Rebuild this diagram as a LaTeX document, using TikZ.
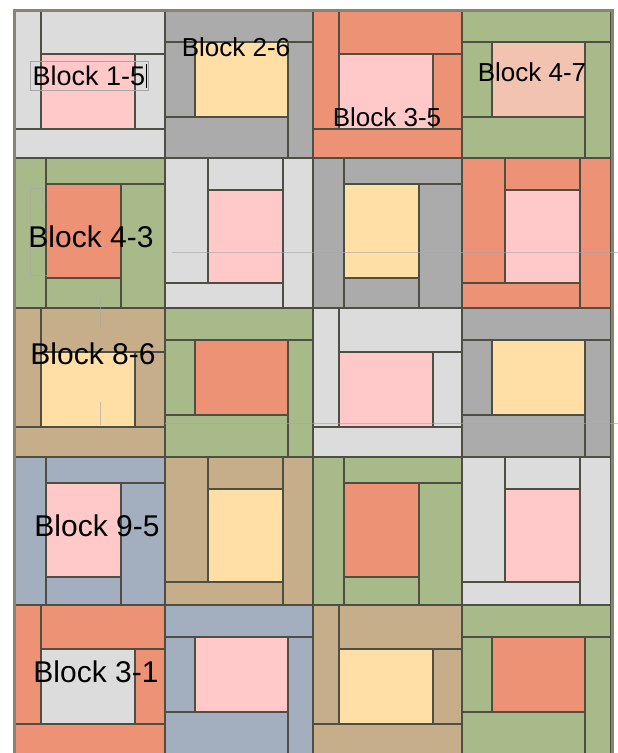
\documentclass[tikz,border=0pt]{standalone}
\usepackage{fontspec}
\setmainfont{Liberation Sans}
\definecolor{qlg}{HTML}{DCDCDC}
\definecolor{qdg}{HTML}{ABABAB}
\definecolor{qsal}{HTML}{EE9275}
\definecolor{qgrn}{HTML}{A9BA8A}
\definecolor{qtan}{HTML}{C6AE8B}
\definecolor{qblu}{HTML}{A3AEBF}
\definecolor{qpink}{HTML}{FFC9C9}
\definecolor{qyel}{HTML}{FFDFA6}
\definecolor{qpeach}{HTML}{F2C3B1}
\definecolor{qline}{HTML}{4E4E42}
\definecolor{qframe}{HTML}{8C8273}
\tikzset{
  patch/.style={draw=qline, line width=1.1pt},
  ghost/.style={draw=gray!70, line width=0.8pt, opacity=0.6},
  lbl/.style={inner sep=0pt, text=black, font=\fontsize{26}{30}\selectfont},
  lblbig/.style={inner sep=0pt, text=black, font=\fontsize{30}{34}\selectfont},
}
% layout A: x0 y0 x1 y1 strip centre
\newcommand\qblkA[6]{%
  \pgfmathsetmacro\qa{#1+26}\pgfmathsetmacro\qb{#1+120}%
  \pgfmathsetmacro\qc{#2+44}\pgfmathsetmacro\qd{#2+119}%
  \fill[#5,patch] (#1,#2) rectangle (\qa,\qd);
  \fill[#5,patch] (\qa,#2) rectangle (#3,\qc);
  \fill[#6,patch] (\qa,\qc) rectangle (\qb,\qd);
  \fill[#5,patch] (\qb,\qc) rectangle (#3,\qd);
  \fill[#5,patch] (#1,\qd) rectangle (#3,#4);
}
\newcommand\qblkB[6]{%
  \pgfmathsetmacro\qa{#1+30}\pgfmathsetmacro\qb{#1+123}%
  \pgfmathsetmacro\qc{#2+32}\pgfmathsetmacro\qd{#2+107}%
  \fill[#5,patch] (#1,#2) rectangle (#3,\qc);
  \fill[#5,patch] (#1,\qc) rectangle (\qa,\qd);
  \fill[#6,patch] (\qa,\qc) rectangle (\qb,\qd);
  \fill[#5,patch] (\qb,\qc) rectangle (#3,#4);
  \fill[#5,patch] (#1,\qd) rectangle (\qb,#4);
}
\newcommand\qblkC[6]{%
  \pgfmathsetmacro\qa{#1+43}\pgfmathsetmacro\qb{#1+118}%
  \pgfmathsetmacro\qc{#2+32}\pgfmathsetmacro\qd{#2+125}%
  \fill[#5,patch] (#1,#2) rectangle (\qa,\qd);
  \fill[#5,patch] (\qa,#2) rectangle (\qb,\qc);
  \fill[#6,patch] (\qa,\qc) rectangle (\qb,\qd);
  \fill[#5,patch] (\qb,#2) rectangle (#3,#4);
  \fill[#5,patch] (#1,\qd) rectangle (\qb,#4);
}
\newcommand\qblkD[6]{%
  \pgfmathsetmacro\qa{#1+31}\pgfmathsetmacro\qb{#1+106}%
  \pgfmathsetmacro\qc{#2+26}\pgfmathsetmacro\qd{#2+120}%
  \fill[#5,patch] (#1,#2) rectangle (\qa,#4);
  \fill[#5,patch] (\qa,#2) rectangle (#3,\qc);
  \fill[#6,patch] (\qa,\qc) rectangle (\qb,\qd);
  \fill[#5,patch] (\qb,\qc) rectangle (#3,#4);
  \fill[#5,patch] (\qa,\qd) rectangle (\qb,#4);
}
\begin{document}
\begin{tikzpicture}[x=1pt,y=-1pt]
\useasboundingbox (0,0) rectangle (618,753);
\fill[white] (0,0) rectangle (618,753);
\begin{scope}
\clip (0,0) rectangle (618,753);
% row 1
\qblkA{15}{10}{165}{158}{qlg}{qpink}
\qblkB{165}{10}{313}{158}{qdg}{qyel}
\qblkA{313}{10}{462}{158}{qsal}{qpink}
\qblkB{462}{10}{611}{158}{qgrn}{qpeach}
% row 2
\qblkD{15}{158}{165}{308}{qgrn}{qsal}
\qblkC{165}{158}{313}{308}{qlg}{qpink}
\qblkD{313}{158}{462}{308}{qdg}{qyel}
\qblkC{462}{158}{611}{308}{qsal}{qpink}
% row 3
\qblkA{15}{308}{165}{457}{qtan}{qyel}
\qblkB{165}{308}{313}{457}{qgrn}{qsal}
\qblkA{313}{308}{462}{457}{qlg}{qpink}
\qblkB{462}{308}{611}{457}{qdg}{qyel}
% row 4
\qblkD{15}{457}{165}{605}{qblu}{qpink}
\qblkC{165}{457}{313}{605}{qtan}{qyel}
\qblkD{313}{457}{462}{605}{qgrn}{qsal}
\qblkC{462}{457}{611}{605}{qlg}{qpink}
% row 5
\qblkA{15}{605}{165}{760}{qsal}{qlg}
\qblkB{165}{605}{313}{760}{qblu}{qpink}
\qblkA{313}{605}{462}{760}{qtan}{qyel}
\qblkB{462}{605}{611}{760}{qgrn}{qsal}
% outer frame
\draw[qframe, line width=3pt] (14.5,10) rectangle (612.5,770);
% ghost guide lines
\draw[ghost] (172,252) -- (618,252);
\draw[ghost] (165,423) -- (618,423);
\draw[ghost] (100,298) -- (100,328);
\draw[ghost] (100,402) -- (100,425);
\draw[ghost] (42,188) -- (30,188) -- (30,275) -- (57,275);
\draw[ghost] (42,188) -- (42,205);
\end{scope}
% labels
\draw[gray!70, line width=0.8pt] (30,61) rectangle (148,90);
\draw[black, line width=1pt] (146,64) -- (146,88);
\node[lbl, font=\fontsize{27}{30}\selectfont] (b15) at (89,76) {Block 1-5};
\node[lbl] (b26) at (236,47) {Block 2-6};
\node[lbl] (b35) at (387,117) {Block 3-5};
\node[lbl] (b47) at (532,72) {Block 4-7};
\node[lblbig] (b43) at (91,237) {Block 4-3};
\node[lblbig] (b86) at (93,354) {Block 8-6};
\node[lblbig] (b95) at (97,526) {Block 9-5};
\node[lblbig] (b31) at (96,672) {Block 3-1};
\end{tikzpicture}
\end{document}
